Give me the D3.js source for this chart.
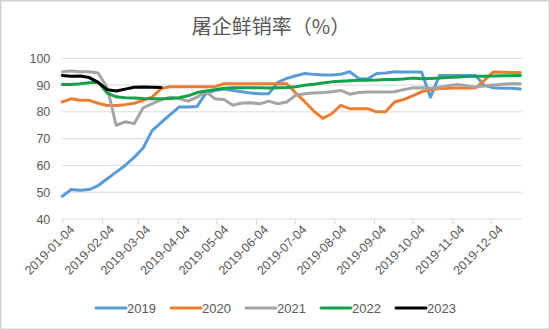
<!DOCTYPE html>
<html><head><meta charset="utf-8">
<script src="https://cdn.jsdelivr.net/npm/d3@7"></script>
<style>
html,body{margin:0;padding:0;background:#fff;}
svg{display:block;}
</style></head>
<body>
<svg id="chart" width="550" height="330"></svg>
<script>
const titleText = "屠企鲜销率（%）";
const seriesNames = ["2019", "2020", "2021", "2022", "2023"];
const seriesColors = ["#5B9BD5", "#ED7D31", "#A5A5A5", "#13A24B", "#000000"];
const tickLabels = ["2019-01-04","2019-02-04","2019-03-04","2019-04-04","2019-05-04","2019-06-04",
  "2019-07-04","2019-08-04","2019-09-04","2019-10-04","2019-11-04","2019-12-04"];
const yTicks = [40, 50, 60, 70, 80, 90, 100];

const v2019 = [48.5,51,50.7,51,52.5,55,57.5,60,63,66.5,73,76,79,81.8,81.8,82,87,88,88.5,88,87.5,87,86.8,86.8,
  91,92.5,93.5,94.3,94,93.8,93.8,94,95,92.5,92.3,94.3,94.5,95,94.9,94.9,94.9,85.5,93.6,93.6,93.6,93.6,93.6,89.9,89,88.8,88.8,88.5];
const v2020 = [83.7,84.9,84.3,84.3,83.2,82.4,82.4,82.7,83.2,84.3,85.5,88.7,89.4,89.4,89.4,89.4,89.4,89.4,90.5,90.5,
  90.5,90.5,90.5,90.5,90.5,90.5,87,83.8,80.3,77.6,79.3,82.4,81.2,81.2,81.2,80,80,83.7,84.6,86,87.5,88.2,88.7,88.8,88.9,88.9,88.9,91.8,94.9,94.8,94.7,94.7];
const v2021 = [95,95.3,95,95,94.5,89,75,76.3,75.6,81.5,83.1,84.5,85.5,85,84,85.5,87.5,84.9,84.6,82.5,83.3,83.4,83,84,
  83,83.7,86.2,86.8,87,87.2,87.5,88,86.6,87.2,87.4,87.4,87.4,87.5,88.3,88.9,89,88.8,89.2,89.8,90.2,89.8,89.3,89.7,90,90.3,90.5,90.5];
const v2022 = [90.2,90.2,90.5,90.9,91.1,87,85.6,85.3,85.2,85,84.9,84.9,85,85.3,86,87.2,87.8,88.3,88.8,89,89,89,89,88.9,
  89,89.1,89.4,89.9,90.3,90.8,91.2,91.4,91.6,91.8,91.8,91.9,92.1,92.1,92.3,92.6,92.4,92.5,92.6,92.8,93,93.2,93.3,93.3,93.4,93.5,93.5,93.6];
const v2023 = [93.6,93.3,93.4,92.8,91,88.3,87.8,88.5,89.2,89.3,89.2,89.1];
const seriesValues = [v2019, v2020, v2021, v2022, v2023];

const startDate = new Date(2019, 0, 4);
const weekDates = d3.range(52).map(i => d3.timeDay.offset(startDate, 7 * i));
const parse = d3.timeParse("%Y-%m-%d");

const svg = d3.select("#chart");
const W = 550, H = 330;
const margin = {left: 62.3, right: 29.7, top: 58.3, bottom: 111};

svg.append("rect").attr("x", 0.75).attr("y", 0.75).attr("width", W - 1.5).attr("height", H - 1.5)
  .attr("fill", "#fff").attr("stroke", "#D0D0D0").attr("stroke-width", 1.5);

const x = d3.scaleTime().domain([startDate, weekDates[51]]).range([margin.left, W - margin.right]);
const y = d3.scaleLinear().domain([40, 100]).range([H - margin.bottom, margin.top]);

// title
svg.append("text").attr("x", 271).attr("y", 34).attr("text-anchor", "middle")
  .attr("font-family", "'Noto Sans CJK SC', sans-serif").attr("font-size", 20)
  .attr("fill", "#595959").text(titleText);

// gridlines
const grid = svg.append("g");
grid.selectAll("line").data(yTicks.filter(t => t > 40)).join("line")
  .attr("x1", x.range()[0]).attr("x2", x.range()[1] + 1.5)
  .attr("y1", d => y(d)).attr("y2", d => y(d))
  .attr("stroke", "#D9D9D9").attr("stroke-width", 1);

// y axis labels
const yAxis = d3.axisLeft(y).tickValues(yTicks).tickSize(0).tickPadding(12);
const gy = svg.append("g").attr("transform", `translate(${margin.left},0)`).call(yAxis);
gy.select(".domain").remove();
gy.selectAll("text").attr("font-family", "'Liberation Sans', Arial, sans-serif")
  .attr("font-size", 12.5).attr("fill", "#595959");

// x axis
const xAxis = d3.axisBottom(x).tickValues(tickLabels.map(parse)).tickSize(5)
  .tickFormat((d, i) => tickLabels[i]).tickSizeOuter(0);
const gx = svg.append("g").attr("transform", `translate(0,${y(40)})`).call(xAxis);
gx.select(".domain").attr("stroke", "#D9D9D9").attr("d", `M${x.range()[0]},0H${x.range()[1] + 1.5}`);
gx.selectAll(".tick line").attr("stroke", "#D9D9D9");
gx.selectAll("text").attr("font-family", "'Liberation Sans', Arial, sans-serif")
  .attr("font-size", 12.5).attr("fill", "#595959")
  .attr("text-anchor", "end").attr("dy", null)
  .attr("transform", "translate(6,5) rotate(-45)").attr("y", 9).attr("x", 0);

// lines
const line = d3.line().x((d, i) => x(weekDates[i])).y(d => y(d));
svg.append("g").selectAll("path").data(seriesValues).join("path")
  .attr("d", d => line(d)).attr("fill", "none")
  .attr("stroke", (d, i) => seriesColors[i]).attr("stroke-width", 3)
  .attr("stroke-linejoin", "round").attr("stroke-linecap", "round");

// legend
const lg = svg.append("g").selectAll("g").data(seriesNames).join("g")
  .attr("transform", (d, i) => `translate(${96 + i * 75},308)`);
lg.append("line").attr("x1", 0).attr("x2", 30).attr("y1", 0).attr("y2", 0)
  .attr("stroke", (d, i) => seriesColors[i]).attr("stroke-width", 3).attr("stroke-linecap", "round");
lg.append("text").attr("x", 31).attr("y", 4.5).text(d => d)
  .attr("font-family", "'Liberation Sans', Arial, sans-serif").attr("font-size", 13).attr("fill", "#595959");
</script>
</body></html>
